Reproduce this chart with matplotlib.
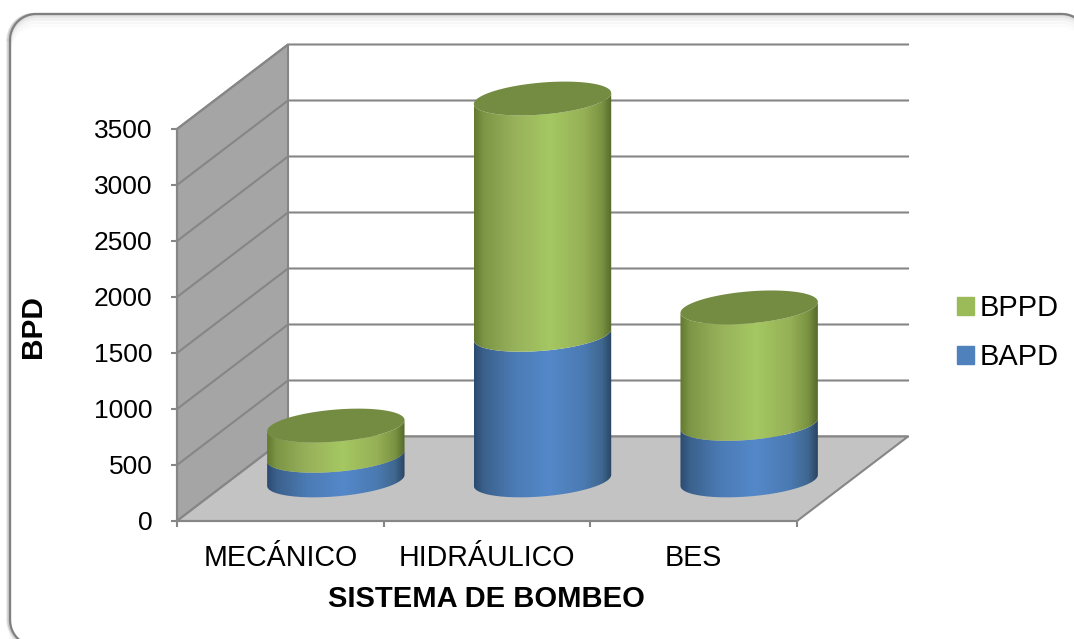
import numpy as np
import matplotlib
matplotlib.use('Agg')
import matplotlib.pyplot as plt
from matplotlib.colors import LinearSegmentedColormap
from matplotlib.patches import PathPatch, Patch, Polygon
from matplotlib.path import Path
from matplotlib.transforms import Affine2D

plt.rcParams['font.family'] = ['Liberation Sans', 'DejaVu Sans']

categories = ['MECÁNICO', 'HIDRÁULICO', 'BES']
bapd = [220, 1300, 505]
bppd = [270, 2110, 1040]
y_ticks = [0, 500, 1000, 1500, 2000, 2500, 3000, 3500]

W, H = 1074, 639
PX_X = 620 / 3        # pixels per category
PX_Y = 392 / 3500     # pixels per BPD
X0, Y0 = 177, 521     # pixel position of the front corner
DEPTH_X = 111 / PX_X
DEPTH_Y = 84.5 / PX_Y

LINE = '#868686'
LW = 1.5

# cylinder shape, data units
RADIUS = 68.7 / PX_X
TILT = 5.5 / PX_Y
MINOR = 16 / PX_Y

fig = plt.figure(figsize=(W / 100, H / 100), dpi=100)
ax = fig.add_axes([0, 0, 1, 1])
ax.set_xlim(-X0 / PX_X, (W - X0) / PX_X)
ax.set_ylim(-(H - Y0) / PX_Y, Y0 / PX_Y)
ax.patch.set_alpha(0)


def frame_outline(x, y, w, h, r):
    # rounded rectangle as a closed line, corners clockwise from top left
    a = np.linspace(0, np.pi / 2, 20)
    xs = np.concatenate((x + r - r * np.cos(a), x + w - r + r * np.sin(a),
                         x + w - r + r * np.cos(a), x + r - r * np.sin(a), [x]))
    ys = np.concatenate((y + r - r * np.sin(a), y + r - r * np.cos(a),
                         y + h - r + r * np.sin(a), y + h - r + r * np.cos(a), [y + r]))
    return xs, ys


# rounded frame with its soft shadow, in picture pixels
to_px = Affine2D().scale(1, -1).translate(0, H) + fig.dpi_scale_trans.inverted() + fig.dpi_scale_trans
frame_layers = [(0, 12, '#fbfbfb'), (0, 9, '#f7f7f7'), (0, 6, '#f1f1f1'), (0, 3.5, '#e9e9e9'), (0, 1.5, '#dddddd'),
                (-2.5, 0, '#e6e6e6'), (-1.5, 0, '#cccccc'), (0, 0, '#808080')]
for off_x, off_y, col in frame_layers:
    fx, fy = frame_outline(10 + off_x, 14 + off_y, 1078, 632, 26)
    ax.plot(fx, fy, color=col, lw=1.6, transform=to_px, zorder=0.1)

# walls and floor
ax.add_patch(Polygon([(0, 0), (DEPTH_X, DEPTH_Y), (DEPTH_X, 3500 + DEPTH_Y), (0, 3500)],
                     fc='#a5a5a5', ec=LINE, lw=LW, zorder=1))
for v in y_ticks:
    ax.plot([0, DEPTH_X, 3 + DEPTH_X], [v, v + DEPTH_Y, v + DEPTH_Y], color=LINE, lw=LW, zorder=1.1,
            solid_joinstyle='miter')
ax.add_patch(Polygon([(0, 0), (3, 0), (3 + DEPTH_X, DEPTH_Y), (DEPTH_X, DEPTH_Y)],
                     fc='#c3c3c3', ec=LINE, lw=LW, zorder=1.2))


def arc(cx, cy, t):
    return np.column_stack((cx + RADIUS * np.cos(t), cy + TILT * np.cos(t) + MINOR * np.sin(t)))


def draw_segment(cx, base, top, cmap, z):
    t = np.linspace(np.pi, 2 * np.pi, 80)
    verts = np.vstack((arc(cx, base, t), arc(cx, top, t[::-1])))
    clip = PathPatch(Path(np.vstack((verts, verts[:1]))), fc='none', ec='none', zorder=z)
    ax.add_patch(clip)
    im = ax.imshow(np.linspace(0, 1, 256).reshape(1, -1), cmap=cmap, aspect='auto', zorder=z,
                   extent=(cx - RADIUS, cx + RADIUS, base - 300, top + 300), vmin=0, vmax=1)
    im.set_clip_path(clip)


blue_map = LinearSegmentedColormap.from_list('blue', [(0, '#2b4a70'), (0.07, '#3b618c'), (0.3, '#4c7cb6'),
                                                       (0.55, '#5488c9'), (0.8, '#4b7ab2'), (0.93, '#3f678f'),
                                                       (1, '#2a4463')])
green_map = LinearSegmentedColormap.from_list('green', [(0, '#62792f'), (0.07, '#7d9646'), (0.3, '#98b25b'),
                                                         (0.55, '#a5c862'), (0.8, '#95b056'), (0.93, '#7a9342'),
                                                         (1, '#56692a')])

for i in range(len(categories)):
    cx = i + 0.5 + DEPTH_X / 2
    floor = DEPTH_Y / 2 - 15
    draw_segment(cx, floor, floor + bapd[i], blue_map, 2)
    draw_segment(cx, floor + bapd[i], floor + bapd[i] + bppd[i], green_map, 2.1)
    t = np.linspace(0, 2 * np.pi, 160)
    ax.add_patch(Polygon(arc(cx, floor + bapd[i] + bppd[i], t), fc='#748b42', ec='none', zorder=2.2))

# axes
for side in ['top', 'right']:
    ax.spines[side].set_visible(False)
ax.spines['left'].set_position(('data', 0))
ax.spines['left'].set_bounds(0, 3500)
ax.spines['bottom'].set_position(('data', 0))
ax.spines['bottom'].set_bounds(0, 3)
for s in ['left', 'bottom']:
    ax.spines[s].set_color(LINE)
    ax.spines[s].set_linewidth(LW)
ax.set_yticks(y_ticks)
ax.tick_params(axis='y', labelsize=19, length=4.5, width=LW, color=LINE, pad=13)
ax.set_xticks([0, 1, 2, 3])
ax.set_xticklabels([])
ax.set_xticks([0.5, 1.5, 2.5], labels=categories, minor=True)
ax.tick_params(axis='x', which='major', length=4.5, width=LW, color=LINE)
ax.tick_params(axis='x', which='minor', length=0, labelsize=20.6, pad=16.5)

ax.set_xlabel('SISTEMA DE BOMBEO', fontsize=21, fontweight='bold')
ax.xaxis.set_label_coords(486 / W, 1 - 599 / H)
ax.xaxis.label.set_verticalalignment('center')
ax.set_ylabel('BPD', fontsize=21.5, fontweight='bold')
ax.yaxis.set_label_coords(33 / W, 1 - 327 / H)
ax.yaxis.label.set_verticalalignment('center')

handles = [Patch(color='#9bbb59', label='BPPD'), Patch(color='#4f81bd', label='BAPD')]
ax.legend(handles=handles, loc='center left', bbox_to_anchor=(957 / W, 1 - 332.5 / H), frameon=False,
          fontsize=20.9, borderpad=0, borderaxespad=0, labelspacing=0.72, handlelength=0.57,
          handleheight=0.57, handletextpad=0.2)

fig.savefig('out.png', dpi=100)
